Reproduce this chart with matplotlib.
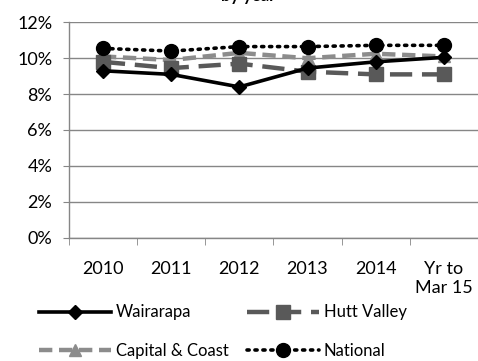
import matplotlib.pyplot as plt
import numpy as np
from matplotlib.ticker import FuncFormatter, FixedLocator

plt.rcParams['font.family'] = ['Lato', 'DejaVu Sans']

# Rates by year for each area (percent)
years = ['2010', '2011', '2012', '2013', '2014', 'Yr to\nMar 15']
wairarapa = [9.3, 9.1, 8.4, 9.45, 9.8, 10.05]
hutt_valley = [9.8, 9.45, 9.7, 9.25, 9.1, 9.1]
capital_coast = [10.1, 9.9, 10.3, 10.0, 10.25, 10.1]
national = [10.55, 10.4, 10.65, 10.65, 10.72, 10.72]

fig = plt.figure(figsize=(4.78, 3.61), dpi=100)
ax = fig.add_axes([0.144, 0.342, 0.856, 0.596])

x = np.arange(len(years))

l_w, = ax.plot(x, wairarapa, color='black', linewidth=2.6, marker='D',
               markersize=7, label='Wairarapa', zorder=4)
l_h, = ax.plot(x, hutt_valley, color='#595959', linewidth=3.2, marker='s',
               markersize=10, dashes=(5, 2.2), label='Hutt Valley', zorder=3)
l_c, = ax.plot(x, capital_coast, color='#8c8c8c', linewidth=3.2, marker='^',
               markersize=9, dashes=(3, 1.5), label='Capital & Coast',
               zorder=2)
l_n, = ax.plot(x, national, color='black', linewidth=2.6, marker='o',
               markersize=10, dashes=(0.6, 1.6), dash_capstyle='round',
               label='National', zorder=5)

ax.set_xlim(-0.5, len(years) - 0.5)
ax.set_ylim(0, 12)
ax.set_yticks(np.arange(0, 13, 2))
ax.yaxis.set_major_formatter(FuncFormatter(lambda v, p: f'{v:.0f}%'))
ax.set_xticks(x)
ax.set_xticklabels(years, fontsize=13, linespacing=1.2)
ax.xaxis.set_minor_locator(FixedLocator(np.arange(-0.5, len(years), 1.0)))
ax.tick_params(axis='x', which='major', length=0, pad=17)
ax.tick_params(axis='x', which='minor', length=5, color='#868686',
               direction='out')
ax.tick_params(axis='y', length=4, color='#868686', labelsize=13, pad=8)
for lbl in ax.get_xticklabels():
    lbl.set_verticalalignment('top')

ax.grid(axis='y', color='#868686', linewidth=1)
ax.set_axisbelow(True)
for side in ['top', 'right']:
    ax.spines[side].set_visible(False)
for side in ['left', 'bottom']:
    ax.spines[side].set_color('#868686')
    ax.spines[side].set_linewidth(1)

# legend filled row by row: Wairarapa, Hutt Valley / Capital & Coast, National
fig.legend([l_w, l_c, l_h, l_n],
           ['Wairarapa', 'Capital & Coast', 'Hutt Valley', 'National'],
           loc='upper left', bbox_to_anchor=(0.065, 0.18), ncol=2,
           frameon=False, fontsize=12, handlelength=4.3, handletextpad=0.3,
           columnspacing=1.1, labelspacing=1.35, borderpad=0)

fig.text(0.52, 0.997, 'by year', ha='center', va='baseline', fontsize=12,
         fontweight='bold')

fig.savefig('out.png', dpi=100)
